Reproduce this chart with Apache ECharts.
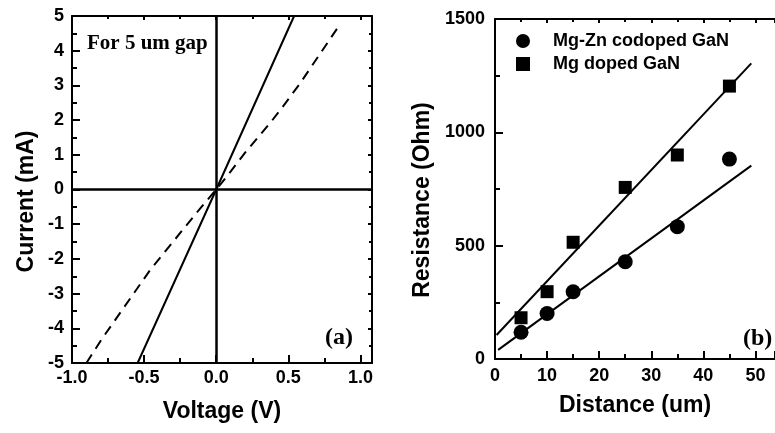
<!DOCTYPE html>
<html>
<head>
<meta charset="utf-8">
<script src="https://cdn.jsdelivr.net/npm/echarts@6/dist/echarts.min.js"></script>
<style>
	html,body{margin:0;padding:0;background:#fff;}
	#main{width:775px;height:433px;}
</style>
</head>
<body>
<div id="main"></div>
<script type="text/javascript">
// (a) I-V curves, 5 um gap
var voltSolid = [-0.545, 0, 0.54];
var currSolid = [-5, 0, 5];
var voltDash = [-0.9, -0.8, -0.46, -0.14, 0, 0.07, 0.2, 0.38, 0.46, 0.58, 0.845];
var currDash = [-5, -4.35, -2.33, -0.69, 0, 0.36, 1.06, 1.95, 2.38, 3.05, 4.68];

// (b) resistance vs distance
var distance = [5, 10, 15, 25, 35, 45];
var resCodoped = [118, 201, 297, 429, 584, 882];
var resMgDoped = [182, 297, 515, 757, 900, 1204];
var fitCodopedX = [0.6, 49.2];
var fitCodopedY = [40, 853];
var fitMgX = [0.3, 49.2];
var fitMgY = [106, 1304];

var legendNames = ['Mg-Zn codoped GaN', 'Mg doped GaN'];

function zip(xs, ys){
	return xs.map(function(v, i){ return [v, ys[i]]; });
}

var tickFont = {color:'#000', fontFamily:'Liberation Sans, Arial', fontWeight:'bold', fontSize:18};
var titleFont = {color:'#000', fontFamily:'Liberation Sans, Arial', fontWeight:'bold', fontSize:23};

// one framed axis; o.mirror gives the top/right copy without labels
function frameAxis(o){
	var ax = {
		type:'value',
		gridIndex:o.grid,
		position:o.position,
		min:o.min,
		max:o.max,
		interval:o.interval,
		splitLine:{show:false},
		axisLine:{show:true, onZero:false, lineStyle:{color:'#000', width:2}},
		axisTick:{show:true, inside:true, length:o.mirror ? 4 : 8, lineStyle:{color:'#000', width:2}},
		minorTick:{show:true, splitNumber:2, length:o.mirror ? 3 : 5, lineStyle:{color:'#000', width:2}}
	};
	if(o.hidden){
		ax.show = false;
	}
	if(o.mirror){
		ax.axisLabel = {show:false};
	}else{
		var fmt = o.fmt || function(v){ return String(v); };
		ax.axisLabel = {
			show:true,
			margin:o.margin,
			color:tickFont.color, fontFamily:tickFont.fontFamily,
			fontWeight:tickFont.fontWeight, fontSize:tickFont.fontSize,
			// the frame edge is not a labelled tick
			formatter:function(v){ return v === o.max && o.hideMax ? '' : fmt(v); }
		};
		ax.name = o.name;
		ax.nameLocation = 'middle';
		ax.nameGap = o.nameGap;
		ax.nameTextStyle = {
			color:titleFont.color, fontFamily:titleFont.fontFamily,
			fontWeight:titleFont.fontWeight, fontSize:titleFont.fontSize,
			padding:o.namePad || [0, 0, 0, 0]
		};
	}
	return ax;
}

var myChart = echarts.init(document.getElementById('main'), null, {renderer:'canvas'});

var option = {
	animation:false,
	backgroundColor:'#fff',
	grid:[
		{left:72, right:403, top:16, bottom:70, containLabel:false, outerBoundsMode:'none'},
		{left:495, right:0, top:19, bottom:74, containLabel:false, outerBoundsMode:'none'}
	],
	xAxis:[
		frameAxis({grid:0, position:'bottom', min:-1, max:1.08, interval:0.5, margin:6, hideMax:true,
			fmt:function(v){ return v.toFixed(1); }, name:'Voltage (V)', nameGap:37}),
		frameAxis({grid:0, position:'top', min:-1, max:1.08, interval:0.5, mirror:true}),
		frameAxis({grid:1, position:'bottom', min:0, max:53.75, interval:10, margin:8, hideMax:true,
			name:'Distance (um)', nameGap:35}),
		frameAxis({grid:1, position:'top', min:0, max:53.75, interval:10, mirror:true})
	],
	yAxis:[
		frameAxis({grid:0, position:'left', min:-5, max:5, interval:1, margin:8,
			name:'Current (mA)', nameGap:34, namePad:[0, 24, 0, 0]}),
		frameAxis({grid:0, position:'right', min:-5, max:5, interval:1, mirror:true}),
		frameAxis({grid:1, position:'left', min:0, max:1500, interval:500, margin:10,
			name:'Resistance (Ohm)', nameGap:61, namePad:[0, 22, 0, 0]}),
		// right frame of (b) is cut off by the picture edge
		frameAxis({grid:1, position:'right', min:0, max:1500, interval:500, mirror:true, hidden:true})
	],
	legend:{
		orient:'vertical',
		left:511,
		top:27,
		itemWidth:14,
		itemHeight:14,
		itemGap:5,
		selectedMode:false,
		textStyle:{color:'#000', fontFamily:'Liberation Sans, Arial', fontWeight:'bold', fontSize:18,
			padding:[0, 0, 0, 18]},
		data:[
			{name:legendNames[0], icon:'circle', itemStyle:{color:'#000', opacity:1}},
			{name:legendNames[1], icon:'rect', itemStyle:{color:'#000', opacity:1}}
		]
	},
	graphic:[
		{type:'text', left:87, top:33, style:{text:'For 5 um gap', fill:'#000',
			font:'bold 21px "Liberation Serif", "Times New Roman", serif'}},
		{type:'text', left:325, top:326, style:{text:'(a)', fill:'#000',
			font:'bold 24px "Liberation Serif", "Times New Roman", serif'}},
		{type:'text', left:743, top:327, style:{text:'(b)', fill:'#000',
			font:'bold 24px "Liberation Serif", "Times New Roman", serif'}}
	],
	series:[
		{
			type:'line', xAxisIndex:0, yAxisIndex:0,
			data:zip(voltSolid, currSolid),
			showSymbol:false, silent:true,
			lineStyle:{color:'#000', width:2},
			markLine:{
				silent:true, symbol:'none', label:{show:false},
				lineStyle:{color:'#000', width:2.5, type:'solid'},
				data:[{xAxis:0}, {yAxis:0}]
			}
		},
		{
			type:'line', xAxisIndex:0, yAxisIndex:0,
			data:zip(voltDash, currDash),
			showSymbol:false, silent:true,
			lineStyle:{color:'#000', width:2, type:[10, 7]}
		},
		{
			type:'line', xAxisIndex:2, yAxisIndex:2,
			data:zip(fitCodopedX, fitCodopedY),
			showSymbol:false, silent:true,
			lineStyle:{color:'#000', width:2}
		},
		{
			type:'line', xAxisIndex:2, yAxisIndex:2,
			data:zip(fitMgX, fitMgY),
			showSymbol:false, silent:true,
			lineStyle:{color:'#000', width:2}
		},
		{
			name:legendNames[0], type:'scatter', xAxisIndex:2, yAxisIndex:2,
			data:zip(distance, resCodoped),
			symbol:'circle', symbolSize:15,
			itemStyle:{color:'#000', opacity:1}
		},
		{
			name:legendNames[1], type:'scatter', xAxisIndex:2, yAxisIndex:2,
			data:zip(distance, resMgDoped),
			symbol:'rect', symbolSize:13,
			itemStyle:{color:'#000', opacity:1}
		}
	]
};

myChart.setOption(option);
</script>
</body>
</html>
